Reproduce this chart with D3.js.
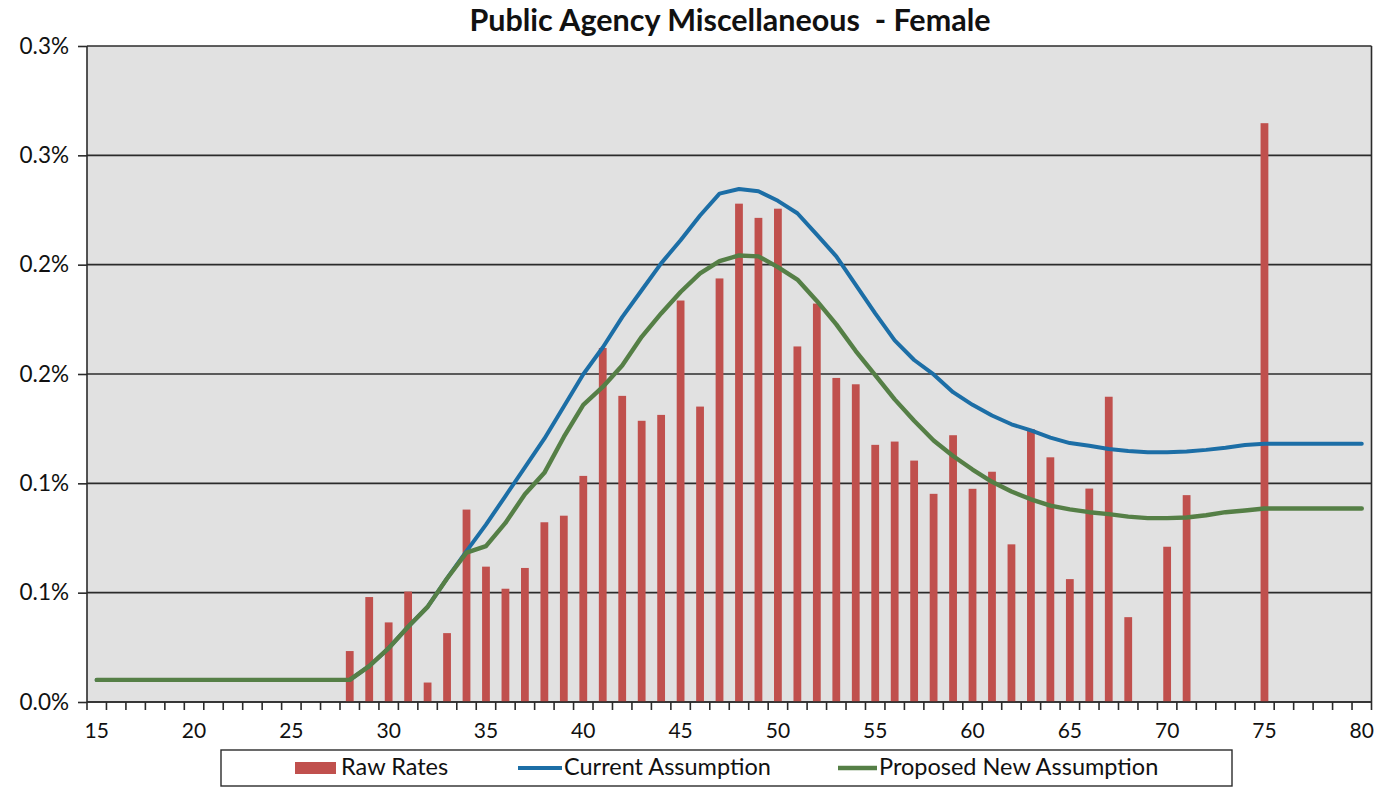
<!DOCTYPE html>
<html>
<head>
<meta charset="utf-8">
<script src="https://cdn.jsdelivr.net/npm/d3@7"></script>
<style>
  html, body { margin: 0; padding: 0; background: #ffffff; }
  svg { display: block; }
  text { font-family: Lato, "Open Sans", "Noto Sans", sans-serif; fill: #111; }
  .axis-label { font-size: 21px; font-family: Lato, "Open Sans", sans-serif; fill: #111; }
  .y-label { font-size: 22.5px; }
</style>
</head>
<body>
<svg id="chart" width="1382" height="788"></svg>
<script>
// Ages on the category axis
const ages = [15,16,17,18,19,20,21,22,23,24,25,26,27,28,29,30,31,32,33,34,35,36,37,38,39,40,
  41,42,43,44,45,46,47,48,49,50,51,52,53,54,55,56,57,58,59,60,61,62,63,64,65,66,67,68,69,70,
  71,72,73,74,75,76,77,78,79,80];

// Observed rates (percent); null where no experience
const rawRates = [null,null,null,null,null,null,null,null,null,null,null,null,null,
  0.0233,0.0480,0.0364,0.0505,0.0089,0.0315,0.0880,0.0619,0.0518,0.0613,0.0822,0.0852,0.1034,
  0.1619,0.1400,0.1286,0.1313,0.1836,0.1351,0.1937,0.2279,0.2214,0.2256,0.1626,0.1822,0.1482,
  0.1453,0.1176,0.1191,0.1104,0.0952,0.1220,0.0975,0.1053,0.0721,0.1248,0.1119,0.0562,0.0976,
  0.1396,0.0388,null,0.0710,0.0946,null,null,null,0.2647,null,null,null,null,null];

// Current assumption (percent)
const currentAssumption = [0.0101,0.0101,0.0101,0.0101,0.0101,0.0101,0.0101,0.0101,0.0101,0.0101,
  0.0101,0.0101,0.0101,0.0101,0.0164,0.0246,0.0344,0.0435,0.0565,0.0690,0.0811,0.0942,0.1073,
  0.1204,0.1351,0.1499,0.1621,0.1760,0.1883,0.2006,0.2112,0.2225,0.2325,0.2346,0.2336,0.2292,
  0.2235,0.2137,0.2038,0.1908,0.1777,0.1654,0.1564,0.1498,0.1417,0.1359,0.1310,0.1270,0.1242,
  0.1209,0.1184,0.1172,0.1157,0.1148,0.1142,0.1142,0.1146,0.1153,0.1163,0.1175,0.1181,0.1181,
  0.1181,0.1181,0.1181,0.1181];

// Proposed new assumption (percent)
const proposedAssumption = [0.0101,0.0101,0.0101,0.0101,0.0101,0.0101,0.0101,0.0101,0.0101,0.0101,
  0.0101,0.0101,0.0101,0.0101,0.0164,0.0246,0.0344,0.0435,0.0565,0.0683,0.0713,0.0819,0.0950,
  0.1048,0.1212,0.1359,0.1441,0.1539,0.1670,0.1777,0.1875,0.1960,0.2016,0.2042,0.2038,0.1989,
  0.1932,0.1834,0.1727,0.1605,0.1495,0.1384,0.1286,0.1196,0.1125,0.1063,0.1007,0.0963,0.0927,
  0.0898,0.0881,0.0868,0.0859,0.0848,0.0841,0.0841,0.0844,0.0854,0.0868,0.0876,0.0885,0.0885,
  0.0885,0.0885,0.0885,0.0885];

// Value axis ticks and their (one-decimal) labels
const yTicks = [0, 0.05, 0.10, 0.15, 0.20, 0.25, 0.30];
const yTickLabels = ["0.0%","0.1%","0.1%","0.2%","0.2%","0.3%","0.3%"];
const xLabelAges = [15,20,25,30,35,40,45,50,55,60,65,70,75,80];

const seriesNames = ["Raw Rates", "Current Assumption", "Proposed New Assumption"];
const colors = { bar: "#C0504D", current: "#1C6EA6", proposed: "#557F46" };

const svg = d3.select("#chart");
const plot = { left: 87, right: 1371.5, top: 46, bottom: 702 };

const x = d3.scaleBand().domain(ages).range([plot.left, plot.right]).padding(0);
const y = d3.scaleLinear().domain([0, 0.30]).range([plot.bottom, plot.top]);
const step = x.bandwidth();
const barW = step * 0.4;
const cx = a => x(a) + step / 2;

// Plot area background
svg.append("rect")
  .attr("x", plot.left).attr("y", plot.top)
  .attr("width", plot.right - plot.left).attr("height", plot.bottom - plot.top)
  .attr("fill", "#E1E1E1");

// Horizontal gridlines
svg.append("g").selectAll("line").data(yTicks).join("line")
  .attr("x1", plot.left).attr("x2", plot.right)
  .attr("y1", d => y(d)).attr("y2", d => y(d))
  .attr("stroke", "#2b2b2b").attr("stroke-width", 1.6);

// Plot border (left and right edges)
svg.append("line").attr("x1", plot.left).attr("x2", plot.left)
  .attr("y1", plot.top).attr("y2", plot.bottom).attr("stroke", "#2b2b2b").attr("stroke-width", 1.6);
svg.append("line").attr("x1", plot.right).attr("x2", plot.right)
  .attr("y1", plot.top).attr("y2", plot.bottom).attr("stroke", "#2b2b2b").attr("stroke-width", 1.6);

// Y axis
const yAxis = d3.axisLeft(y).tickValues(yTicks).tickSize(9).tickPadding(9)
  .tickFormat((d, i) => yTickLabels[i]);
const gy = svg.append("g").attr("transform", `translate(${plot.left},0)`).call(yAxis)
  .attr("font-size", null).attr("font-family", null);
gy.select(".domain").remove();
gy.selectAll(".tick line").attr("stroke", "#2b2b2b").attr("stroke-width", 1.6);
gy.selectAll(".tick text").attr("class", "axis-label y-label");

// Bars
const barData = ages.map((a, i) => ({ age: a, v: rawRates[i] })).filter(d => d.v !== null);
svg.append("g").selectAll("rect").data(barData).join("rect")
  .attr("x", d => cx(d.age) - barW / 2)
  .attr("width", barW)
  .attr("y", d => y(d.v))
  .attr("height", d => y(0) - y(d.v))
  .attr("fill", colors.bar);

// Lines
const line = d3.line().x(d => cx(d.age)).y(d => y(d.v));
const curSeries = ages.map((a, i) => ({ age: a, v: currentAssumption[i] }));
const propSeries = ages.map((a, i) => ({ age: a, v: proposedAssumption[i] }));
svg.append("path").datum(curSeries).attr("d", line)
  .attr("fill", "none").attr("stroke", colors.current).attr("stroke-width", 4)
  .attr("stroke-linejoin", "round").attr("stroke-linecap", "round");
svg.append("path").datum(propSeries).attr("d", line)
  .attr("fill", "none").attr("stroke", colors.proposed).attr("stroke-width", 4.4)
  .attr("stroke-linejoin", "round").attr("stroke-linecap", "round");

// X axis baseline, tick marks at category boundaries, labels every 5 years
const gx = svg.append("g");
gx.append("line").attr("x1", plot.left).attr("x2", plot.right)
  .attr("y1", plot.bottom).attr("y2", plot.bottom).attr("stroke", "#2b2b2b").attr("stroke-width", 1.6);
const boundaries = ages.map(a => x(a)).concat([plot.right]);
gx.selectAll("line.tk").data(boundaries).join("line").attr("class", "tk")
  .attr("x1", d => d).attr("x2", d => d)
  .attr("y1", plot.bottom).attr("y2", plot.bottom + 8)
  .attr("stroke", "#2b2b2b").attr("stroke-width", 1.6);
const xAxis = d3.axisBottom(x).tickValues(xLabelAges).tickSize(0).tickPadding(21);
const gxl = svg.append("g").attr("transform", `translate(0,${plot.bottom})`).call(xAxis)
  .attr("font-size", null).attr("font-family", null);
gxl.select(".domain").remove();
gxl.selectAll(".tick text").attr("class", "axis-label");

// Title
svg.append("text")
  .attr("x", 730).attr("y", 31)
  .attr("text-anchor", "middle")
  .attr("font-size", 30.5).attr("font-weight", "bold")
  .style("white-space", "pre")
  .text("Public Agency Miscellaneous  - Female");

// Legend
const lg = svg.append("g");
lg.append("rect").attr("x", 221).attr("y", 750).attr("width", 1011).attr("height", 36)
  .attr("fill", "#fff").attr("stroke", "#2b2b2b").attr("stroke-width", 1.4);
const ly = 768;
lg.append("rect").attr("x", 295).attr("y", ly - 6).attr("width", 41).attr("height", 12)
  .attr("fill", colors.bar);
lg.append("text").attr("x", 341).attr("y", ly + 7).attr("font-size", 23.5).text(seriesNames[0]);
lg.append("line").attr("x1", 518).attr("x2", 562).attr("y1", ly).attr("y2", ly)
  .attr("stroke", colors.current).attr("stroke-width", 4);
lg.append("text").attr("x", 564).attr("y", ly + 7).attr("font-size", 23.5).text(seriesNames[1]);
lg.append("line").attr("x1", 838).attr("x2", 877).attr("y1", ly).attr("y2", ly)
  .attr("stroke", colors.proposed).attr("stroke-width", 4.4);
lg.append("text").attr("x", 879).attr("y", ly + 7).attr("font-size", 23.5).text(seriesNames[2]);
</script>
</body>
</html>
